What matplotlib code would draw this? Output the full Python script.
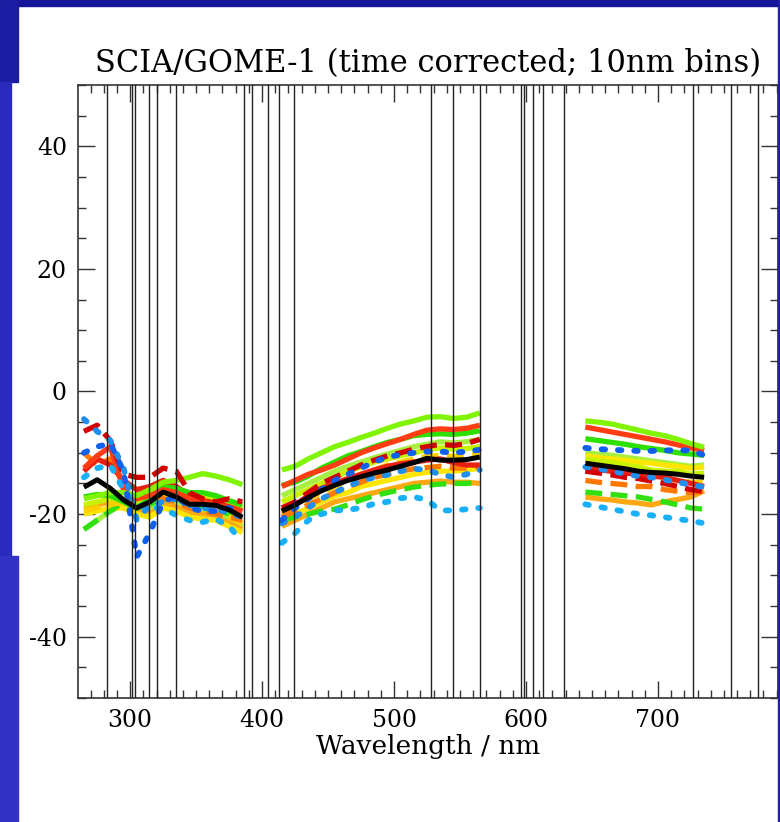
import numpy as np
import matplotlib
matplotlib.use("Agg")
import matplotlib.pyplot as plt
from matplotlib.patches import Rectangle
from matplotlib.ticker import MultipleLocator

# ---------------- data ----------------
WAVELENGTH = [265, 275, 285, 295, 305, 315, 325, 335, 345, 355, 365, 375, 385,
              415, 425, 435, 445, 455, 465, 475, 485, 495, 505, 515, 525, 535, 545, 555, 565,
              645, 655, 665, 675, 685, 695, 705, 715, 725, 735]

MEAN = [-15.6, -14.4, -15.8, -17.7, -19.0, -18.0, -16.4, -17.2, -18.4, -18.4, -18.6, -19.3, -20.5,
        -19.5, -18.5, -17.3, -16.2, -15.3, -14.5, -13.9, -13.3, -12.8, -12.2, -11.6, -10.9, -11.2, -11.2, -11.1, -10.7,
        -11.7, -12.0, -12.3, -12.6, -13.0, -13.2, -13.3, -13.5, -13.8, -14.0]

LIME_TOP = [-17.5, -17.0, -16.5, -16.5, -17.0, -16.0, -14.8, -14.5, -14.0, -13.4, -13.8, -14.4, -15.2,
            -12.8, -12.2, -11.0, -10.0, -9.0, -8.3, -7.5, -6.8, -6.0, -5.3, -4.8, -4.2, -4.1, -4.4, -4.2, -3.5,
            -4.8, -5.0, -5.3, -5.8, -6.3, -6.8, -7.2, -7.8, -8.5, -9.1]
REDORANGE = [-12.5, -10.5, -9.0, -16.0, -17.5, -17.0, -16.0, -16.5, -17.5, -18.0, -18.5, -19.0, -19.5,
             -15.5, -14.5, -13.5, -12.8, -12.0, -11.0, -10.0, -9.2, -8.5, -7.8, -7.0, -6.3, -6.1, -6.2, -6.0, -5.5,
             -5.8, -6.2, -6.6, -7.0, -7.4, -7.8, -8.2, -8.7, -9.2, -9.6]
GREEN = [-17.2, -16.8, -17.0, -18.0, -19.0, -17.5, -15.5, -15.8, -16.5, -16.5, -17.0, -17.8, -18.5,
         -15.3, -14.8, -13.8, -12.5, -11.5, -10.5, -9.8, -9.0, -8.3, -7.8, -7.2, -7.0, -6.9, -7.0, -6.8, -6.4,
         -7.7, -8.0, -8.3, -8.6, -9.0, -9.3, -9.6, -10.0, -10.2, -10.4]
BLUE_DOT = [-10.0, -9.0, -8.5, -13.0, -27.0, -23.0, -18.0, -17.0, -19.0, -19.5, -19.5, -19.0, -19.5,
            -21.0, -19.0, -17.5, -16.0, -14.5, -13.5, -12.5, -11.5, -10.7, -10.3, -10.0, -9.8, -9.8, -10.0, -9.8, -9.5,
            -9.2, -9.4, -9.5, -9.6, -9.7, -9.7, -9.6, -9.6, -9.6, -10.4]
BLUE_DOT2 = [-4.5, -6.5, -8.0, -12.5, -21.0, -18.5, -18.0, -17.5, -18.5, -19.0, -19.2, -19.8, -20.5,
             -21.5, -20.5, -19.0, -17.5, -16.5, -15.5, -14.6, -14.0, -13.6, -13.0, -12.6, -12.8, -13.5, -14.0, -13.5, -12.8,
             -12.3, -12.6, -13.0, -13.4, -13.8, -14.0, -14.4, -14.8, -15.2, -15.6]
LIGHTBLUE_DOT = [-14.0, -12.5, -12.0, -16.0, -18.5, -19.0, -19.0, -20.2, -21.0, -21.3, -20.8, -22.0, -24.5,
                 -24.7, -23.1, -21.0, -20.0, -19.4, -19.3, -19.0, -18.3, -18.0, -17.4, -17.2, -17.7, -19.4, -19.4, -19.2, -19.0,
                 -18.4, -18.8, -19.2, -19.6, -20.0, -20.2, -20.5, -20.8, -21.1, -21.5]
ORANGE = [-19.0, -18.5, -18.0, -18.5, -19.5, -20.0, -18.5, -18.8, -19.8, -20.0, -20.5, -21.5, -22.5,
          -22.0, -21.0, -20.0, -19.0, -18.0, -17.5, -17.0, -16.5, -16.0, -15.5, -15.0, -14.8, -14.6, -14.8, -14.8, -15.0,
          -17.2, -17.5, -17.7, -18.0, -18.2, -18.5, -18.0, -17.6, -17.2, -16.2]
YELLOW = [-20.0, -19.5, -19.0, -19.0, -20.0, -20.5, -19.0, -19.5, -20.5, -20.8, -21.0, -22.0, -23.0,
          -21.0, -20.0, -19.0, -18.0, -17.0, -16.5, -15.5, -15.0, -14.5, -14.0, -13.5, -13.2, -13.0, -13.0, -12.8, -12.5,
          -10.5, -10.8, -11.0, -11.2, -11.5, -11.7, -12.0, -12.2, -12.5, -12.3]
YELLOWGREEN = [-18.5, -18.0, -17.5, -17.5, -18.0, -17.0, -15.5, -16.0, -17.0, -17.2, -17.5, -18.0, -19.0,
               -18.0, -17.0, -16.0, -15.0, -14.0, -13.0, -12.3, -11.5, -11.0, -10.5, -10.0, -9.5, -9.2, -9.4, -9.3, -9.0,
               -11.0, -11.3, -11.5, -12.0, -12.3, -12.8, -13.0, -13.0, -13.5, -13.3]
GREEN_DASH = [-22.5, -21.0, -19.5, -18.0, -19.0, -18.5, -17.0, -17.5, -18.5, -18.8, -19.3, -20.0, -21.0,
              -21.0, -20.5, -20.0, -19.5, -19.2, -18.5, -17.7, -17.0, -16.5, -16.0, -15.6, -15.3, -15.1, -15.0, -15.0, -14.8,
              -16.4, -16.6, -16.8, -17.0, -17.2, -17.6, -18.0, -18.5, -19.0, -19.2]
RED_DASH = [-6.5, -5.5, -8.0, -13.5, -14.0, -14.0, -12.5, -13.0, -16.5, -17.5, -18.0, -17.5, -18.0,
            -19.0, -18.0, -16.5, -15.0, -14.0, -13.0, -12.0, -11.2, -10.5, -10.0, -9.4, -9.0, -8.6, -8.8, -8.5, -7.8,
            -13.0, -13.3, -13.6, -14.0, -14.2, -14.6, -15.0, -15.5, -16.0, -16.3]
ORANGE_DASH = [-10.0, -12.0, -11.0, -15.0, -17.0, -16.5, -17.5, -18.0, -19.0, -19.5, -20.0, -20.5, -21.0,
               -20.5, -19.5, -18.5, -17.5, -16.5, -15.5, -14.8, -14.0, -13.5, -13.0, -12.6, -12.4, -12.2, -12.5, -12.5, -12.2,
               -14.5, -14.8, -15.0, -15.2, -15.5, -15.5, -16.0, -16.3, -16.5, -16.3]
YELLOW_DASH = [-19.5, -19.0, -18.5, -18.0, -18.5, -18.5, -17.0, -17.5, -18.5, -19.0, -19.5, -20.5, -21.5,
               -20.0, -19.0, -17.5, -16.5, -15.5, -14.5, -13.5, -12.8, -12.0, -11.5, -11.0, -10.6, -10.4, -10.6, -10.5, -10.2,
               -12.8, -13.0, -13.2, -13.5, -13.8, -14.0, -14.2, -14.5, -14.8, -14.8]
LIGHTGREEN = [-22.5, -21.0, -19.5, -18.5, -19.0, -19.2, -17.8, -18.2, -19.2, -19.5, -20.0, -20.8, -22.0,
              -17.0, -16.0, -15.0, -14.0, -13.0, -12.2, -11.5, -10.8, -10.2, -9.6, -9.0, -8.6, -8.2, -8.4, -8.2, -7.8,
              -10.0, -10.2, -10.4, -10.7, -11.0, -11.3, -11.6, -11.9, -12.2, -12.0]
RED = [-13.0, -11.0, -12.0, -14.5, -16.0, -15.5, -14.5, -15.5, -17.0, -17.8, -18.2, -18.8, -19.5,
       -19.5, -18.5, -17.0, -15.8, -15.0, -14.2, -13.5, -12.8, -12.2, -11.8, -11.5, -11.2, -11.0, -11.6, -12.0, -12.0,
       -12.5, -12.8, -13.0, -13.3, -13.5, -13.8, -14.0, -14.5, -15.0, -15.5]

SERIES = [
    (LIGHTGREEN, '#a8f040', 'solid'),
    (ORANGE, '#ffa812', 'solid'),
    (YELLOW, '#ffe600', 'solid'),
    (GREEN_DASH, '#30e010', 'dash'),
    (YELLOW_DASH, '#ffd000', 'dash'),
    (ORANGE_DASH, '#ff7800', 'dash'),
    (YELLOWGREEN, '#c8f200', 'solid'),
    (RED, '#e82010', 'solid'),
    (GREEN, '#2ee000', 'solid'),
    (REDORANGE, '#ff3c14', 'solid'),
    (LIME_TOP, '#80f400', 'solid'),
    (RED_DASH, '#d40000', 'dash'),
    (LIGHTBLUE_DOT, '#18b0f8', 'dot'),
    (BLUE_DOT2, '#2090f0', 'dot'),
    (BLUE_DOT, '#1060f0', 'dot'),
]

VLINES = [282.6, 301.5, 303.8, 314.4, 320.5, 334.8, 386.4, 392.4, 404.5, 412.9, 424.2,
          528.0, 544.7, 565.2, 596.0, 598.5, 605.3, 612.9, 628.8, 726.5, 755.3, 775.8]

TITLE = "SCIA/GOME-1 (time corrected; 10nm bins)"
XLABEL = "Wavelength / nm"

# ---------------- figure ----------------
plt.rcParams['font.family'] = ['DejaVu Serif']
plt.rcParams['axes.unicode_minus'] = False
fig = plt.figure(figsize=(7.8, 8.22), dpi=100, facecolor='white')

W, H = 780.0, 822.0
def frect(x0, y0, x1, y1, color):
    fig.patches.append(Rectangle((x0 / W, 1 - y1 / H), (x1 - x0) / W, (y1 - y0) / H,
                                 transform=fig.transFigure, color=color, zorder=0))

frect(0, 0, 780, 6, '#15159c')
frect(0, 0, 18, 82, '#1c1ca2')
frect(0, 82, 11, 556, '#2a2abc')
frect(0, 556, 18, 822, '#3232c4')
frect(778, 0, 780, 822, '#2020a8')

ax = fig.add_axes([78 / W, 1 - 698 / H, 700 / W, 613 / H])
ax.set_facecolor('white')

wl = np.array(WAVELENGTH, dtype=float)
breaks = np.where(np.diff(wl) > 15)[0] + 1
segments = np.split(np.arange(len(wl)), breaks)

for vals, color, style in SERIES:
    v = np.array(vals, dtype=float)
    for idx in segments:
        if style == 'solid':
            ax.plot(wl[idx], v[idx], color=color, lw=3.8, solid_capstyle='butt', zorder=2)
        elif style == 'dash':
            ax.plot(wl[idx], v[idx], color=color, lw=3.8, linestyle=(0, (3.2, 1.6)),
                    dash_capstyle='butt', zorder=2)
        else:
            ax.plot(wl[idx], v[idx], color=color, lw=4.2, linestyle=(0, (0.6, 2.2)),
                    dash_capstyle='round', zorder=3)

m = np.array(MEAN, dtype=float)
for idx in segments:
    ax.plot(wl[idx], m[idx], color='black', lw=3.6, solid_capstyle='butt', zorder=4)

for xv in VLINES:
    ax.axvline(xv, color='#222222', lw=1.0, zorder=5)

ax.set_xlim(260.5, 791)
ax.set_ylim(-50, 50)
ax.xaxis.set_major_locator(MultipleLocator(100))
ax.xaxis.set_minor_locator(MultipleLocator(10))
ax.yaxis.set_major_locator(MultipleLocator(20))
ax.yaxis.set_minor_locator(MultipleLocator(5))
ax.tick_params(which='both', direction='in', top=True, right=True, color='#333333', width=1.0)
ax.tick_params(which='major', length=12, labelsize=17, pad=8)
ax.tick_params(which='minor', length=6)
for s in ax.spines.values():
    s.set_color('#333333')
    s.set_linewidth(1.2)

ax.set_yticks([-40, -20, 0, 20, 40])
ax.set_xticks([300, 400, 500, 600, 700])

ax.set_title(TITLE, fontsize=22, pad=9)
ax.set_xlabel(XLABEL, fontsize=19, labelpad=1)

fig.savefig('out.png', dpi=100, facecolor=fig.get_facecolor())
